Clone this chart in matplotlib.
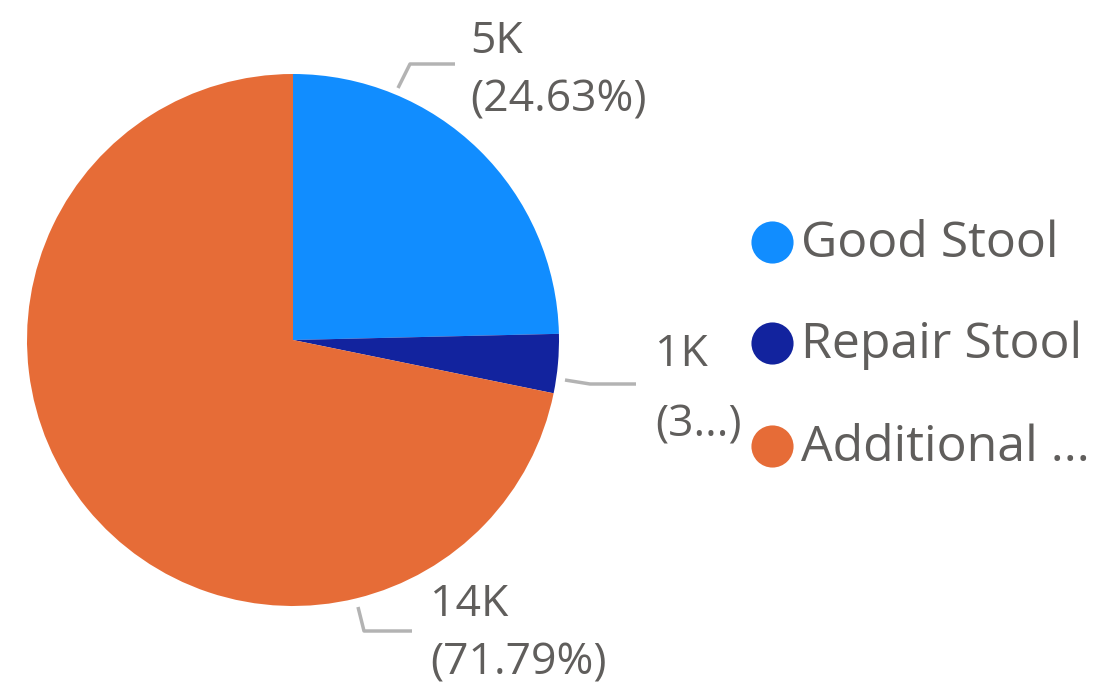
import matplotlib.pyplot as plt

# data
categories = ['Good Stool', 'Repair Stool', 'Additional ...']
values_k = ['5K', '1K', '14K']
pct_labels = ['(24.63%)', '(3...)', '(71.79%)']
shares = [24.63, 3.58, 71.79]
colors = ['#118DFF', '#12239E', '#E66C37']

W, H = 1098, 697
fig = plt.figure(figsize=(W / 100, H / 100), dpi=100)
ax = fig.add_axes([0, 0, 1, 1])

txt_col = '#605E5C'
line_col = '#B3B3B3'
font = 'Open Sans'

# pie (center / radius in pixel space, y flipped)
cx, cy, r = 293, H - 340, 266
ax.pie(shares, colors=colors, startangle=90, counterclock=False,
       center=(cx, cy), radius=r, frame=True,
       wedgeprops=dict(linewidth=0))
ax.set_xlim(0, W)
ax.set_ylim(0, H)
ax.set_aspect('equal')
ax.axis('off')

# leader lines + data labels (layout positions)
leaders = [
    [(398, 88), (410, 64), (455, 64)],
    [(565, 380), (590, 384), (636, 384)],
    [(358, 607), (364, 631), (412, 631)],
]
label_pos = [(470, 42, 100), (655, 355, 425), (430, 605, 663)]
for pts, (lx, y1, y2), vk, pl in zip(leaders, label_pos, values_k, pct_labels):
    xs = [p[0] for p in pts]
    ys = [H - p[1] for p in pts]
    ax.plot(xs, ys, color=line_col, lw=2.5, solid_capstyle='butt')
    ax.text(lx, H - y1, vk, fontsize=32, color=txt_col, family=font,
            ha='left', va='center')
    ax.text(lx, H - y2, pl, fontsize=32, color=txt_col, family=font,
            ha='left', va='center')

# legend
leg_y = [242, 343, 446]
for cat, col, y in zip(categories, colors, leg_y):
    ax.scatter([772], [H - y], s=920, color=col, linewidths=0)
    ax.text(801, H - y - 2, cat, fontsize=36, color=txt_col, family=font,
            ha='left', va='center')

fig.savefig('out.png', dpi=100)
